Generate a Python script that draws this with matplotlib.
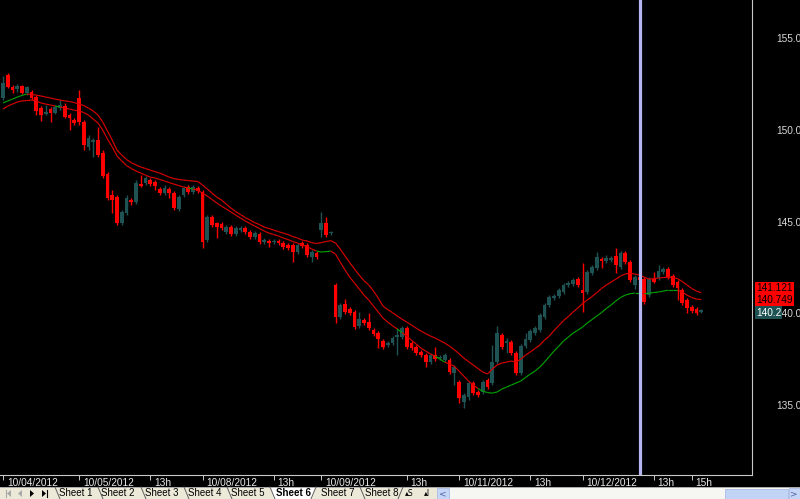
import matplotlib
matplotlib.use("Agg")
import matplotlib.pyplot as plt
import matplotlib.transforms as mtransforms
from matplotlib.collections import LineCollection
from matplotlib.patches import Rectangle, Polygon

# 15 minute bars, 10/04/2012 - 10/12/2012
opens = [
    151.73, 152.98, 152.33, 152.22, 152.38, 152.00, 152.06, 151.78, 151.18, 150.86,
    151.13, 150.91, 151.18, 151.29, 150.80, 150.53, 151.73, 150.42, 149.06, 149.33,
    149.44, 148.73, 147.59, 146.44, 146.33, 144.92, 145.46, 146.17, 146.06, 147.04,
    147.10, 147.26, 147.15, 146.77, 146.55, 146.77, 146.55, 145.68, 146.44, 146.88,
    146.61, 146.82, 146.61, 143.99, 145.24, 144.92, 144.86, 144.43, 144.70, 144.32,
    144.53, 144.64, 144.43, 144.15, 144.32, 143.88, 143.94, 143.88, 143.94, 143.83,
    143.72, 143.72, 143.34, 143.83, 143.72, 143.06, 143.28, 144.53, 144.92, 144.37,
    141.54, 139.79, 140.50, 140.23, 140.07, 139.30, 139.63, 139.52, 139.08, 138.92,
    138.49, 138.27, 138.38, 138.70, 138.70, 139.19, 138.38, 138.16, 137.89, 137.72,
    137.34, 137.72, 137.56, 137.45, 137.45, 136.74, 136.25, 135.16, 135.43, 136.20,
    135.71, 135.71, 136.36, 136.20, 137.34, 138.81, 138.38, 138.43, 137.83, 136.74,
    138.21, 138.54, 138.92, 139.08, 139.79, 140.45, 140.83, 140.94, 141.16, 141.54,
    141.59, 141.86, 141.26, 141.16, 142.19, 142.46, 142.95, 142.85, 142.90, 143.12,
    142.52, 143.28, 142.79, 141.54, 141.97, 141.86, 140.99, 141.86, 141.92, 142.25,
    142.41, 142.03, 141.70, 141.26, 140.72, 140.34, 140.23, 140.07,
]
highs = [
    152.93, 153.09, 152.44, 152.49, 152.44, 152.38, 152.16, 151.89, 151.29, 151.35,
    151.24, 151.35, 151.62, 151.46, 150.91, 150.64, 152.16, 150.53, 149.71, 149.55,
    150.15, 148.89, 147.70, 146.71, 146.44, 145.62, 146.44, 146.28, 147.26, 147.53,
    147.48, 147.37, 147.26, 146.88, 146.99, 146.88, 146.66, 146.44, 146.93, 146.99,
    146.99, 146.93, 146.71, 145.35, 145.35, 144.97, 144.97, 144.81, 144.81, 144.75,
    144.75, 144.75, 144.53, 144.48, 144.43, 144.10, 144.04, 144.04, 144.04, 143.94,
    143.83, 143.83, 143.83, 143.94, 143.83, 143.44, 143.39, 145.52, 145.24, 144.48,
    141.65, 140.56, 140.77, 140.34, 140.17, 140.07, 139.74, 140.01, 139.19, 139.03,
    138.59, 138.49, 138.76, 139.19, 139.30, 139.30, 138.49, 138.27, 138.00, 137.83,
    137.83, 138.16, 137.72, 137.83, 137.56, 137.18, 136.36, 135.65, 136.31, 136.31,
    135.82, 136.36, 136.47, 138.27, 139.30, 138.92, 138.65, 138.54, 137.94, 138.32,
    138.92, 139.14, 139.30, 140.01, 140.56, 140.99, 141.05, 141.37, 141.65, 141.75,
    141.92, 141.97, 142.74, 142.36, 142.63, 143.34, 143.06, 143.17, 143.12, 143.55,
    143.39, 143.39, 142.90, 142.08, 142.08, 141.97, 141.97, 142.25, 142.63, 142.52,
    142.52, 142.14, 141.81, 141.37, 140.83, 140.45, 140.34, 140.23,
]
lows = [
    151.62, 152.27, 152.00, 152.06, 151.95, 151.89, 151.62, 150.80, 150.48, 150.80,
    150.42, 150.86, 151.07, 150.64, 149.98, 150.26, 150.26, 148.89, 148.89, 148.51,
    148.51, 147.37, 146.17, 145.46, 144.81, 144.81, 145.35, 145.90, 145.95, 146.88,
    146.99, 146.93, 146.71, 146.44, 146.44, 146.28, 145.62, 145.57, 146.33, 146.50,
    146.50, 146.55, 143.55, 143.88, 144.70, 144.10, 144.53, 144.32, 144.21, 144.21,
    144.43, 144.32, 144.04, 144.04, 143.77, 143.77, 143.61, 143.77, 143.72, 143.50,
    143.44, 142.79, 143.23, 143.55, 143.06, 142.79, 142.95, 144.15, 144.15, 144.26,
    139.47, 139.68, 139.96, 139.90, 139.14, 139.19, 139.36, 139.08, 138.76, 138.10,
    138.05, 138.16, 138.27, 137.72, 138.59, 138.05, 138.00, 137.72, 137.61, 137.07,
    137.23, 137.40, 137.45, 137.34, 136.69, 136.09, 135.11, 134.83, 135.27, 135.54,
    135.43, 135.60, 135.87, 136.09, 137.23, 138.05, 137.83, 137.72, 136.63, 136.63,
    138.10, 138.43, 138.81, 138.97, 139.68, 140.34, 140.72, 140.83, 141.05, 141.43,
    141.48, 141.43, 140.07, 141.05, 142.08, 142.36, 142.46, 142.74, 142.79, 142.19,
    142.41, 142.68, 141.70, 141.32, 141.70, 140.50, 140.88, 141.65, 141.81, 142.14,
    141.86, 141.43, 140.72, 140.45, 140.01, 140.01, 139.90, 140.01,
]
closes = [
    152.55, 152.33, 152.16, 152.38, 152.00, 152.33, 151.73, 151.02, 150.80, 150.97,
    150.91, 151.24, 151.35, 150.69, 150.64, 150.37, 150.42, 149.17, 149.55, 149.44,
    148.62, 147.48, 146.28, 146.17, 144.92, 145.52, 146.28, 146.06, 147.10, 146.93,
    147.37, 147.04, 146.93, 146.55, 146.82, 146.55, 145.73, 146.33, 146.82, 146.61,
    146.88, 146.66, 143.88, 145.24, 144.81, 144.70, 144.64, 144.70, 144.32, 144.64,
    144.64, 144.43, 144.15, 144.37, 143.88, 143.99, 143.83, 143.94, 143.83, 143.61,
    143.55, 143.34, 143.72, 143.66, 143.17, 143.34, 143.06, 144.92, 144.26, 144.40,
    139.79, 140.45, 140.07, 140.01, 139.25, 139.68, 139.47, 139.19, 138.87, 138.59,
    138.16, 138.38, 138.65, 138.81, 139.19, 138.16, 138.10, 137.83, 137.72, 137.34,
    137.72, 137.50, 137.61, 137.72, 136.80, 137.07, 135.38, 135.54, 136.20, 135.65,
    135.54, 136.25, 135.98, 137.34, 138.92, 138.16, 138.49, 137.83, 136.74, 138.21,
    138.59, 139.03, 139.19, 139.90, 140.45, 140.88, 140.94, 141.26, 141.54, 141.65,
    141.81, 141.54, 141.10, 142.25, 142.52, 143.06, 142.85, 143.01, 143.01, 142.63,
    143.28, 142.79, 141.81, 141.97, 141.81, 140.61, 141.86, 141.70, 142.30, 142.41,
    141.97, 141.54, 141.37, 140.56, 140.28, 140.12, 140.01, 140.17,
]
ma_upper = [
    151.46, 151.57, 151.67, 151.78, 151.87, 151.95, 151.92, 151.89, 151.84, 151.78,
    151.73, 151.67, 151.62, 151.57, 151.54, 151.48, 151.40, 151.32, 151.18, 151.02,
    150.80, 150.42, 149.93, 149.44, 148.89, 148.62, 148.38, 148.21, 148.08, 147.97,
    147.89, 147.80, 147.72, 147.64, 147.53, 147.42, 147.34, 147.29, 147.26, 147.23,
    147.21, 147.18, 146.99, 146.77, 146.55, 146.33, 146.17, 145.95, 145.73, 145.54,
    145.38, 145.22, 145.08, 144.94, 144.83, 144.70, 144.62, 144.53, 144.45, 144.37,
    144.29, 144.18, 144.10, 143.99, 143.94, 143.85, 143.80, 143.85, 143.91, 143.96,
    143.83, 143.50, 143.12, 142.76, 142.41, 142.08, 141.78, 141.54, 141.21, 140.83,
    140.39, 140.20, 140.04, 139.85, 139.68, 139.52, 139.36, 139.19, 139.03, 138.89,
    138.76, 138.65, 138.51, 138.38, 138.21, 138.02, 137.80, 137.56, 137.37, 137.18,
    136.99, 136.80, 136.69, 136.96, 137.18, 137.29, 137.34, 137.40, 137.34, 137.50,
    137.72, 137.89, 138.08, 138.27, 138.54, 138.76, 139.06, 139.33, 139.60, 139.82,
    140.07, 140.28, 140.53, 140.72, 140.91, 141.13, 141.35, 141.54, 141.70, 141.86,
    142.03, 142.14, 142.19, 142.14, 142.08, 141.97, 141.86, 141.89, 141.92, 141.95,
    141.97, 141.95, 141.89, 141.73, 141.54, 141.35, 141.21, 141.12,
]
ma_lower = [
    151.13, 151.29, 151.40, 151.51, 151.57, 151.59, 151.62, 151.57, 151.46, 151.40,
    151.35, 151.29, 151.24, 151.18, 151.13, 151.07, 151.02, 150.94, 150.80, 150.58,
    150.37, 149.98, 149.49, 149.06, 148.57, 148.30, 148.05, 147.89, 147.75, 147.64,
    147.53, 147.42, 147.37, 147.29, 147.21, 147.12, 147.04, 146.96, 146.88, 146.82,
    146.77, 146.71, 146.55, 146.39, 146.20, 146.01, 145.84, 145.68, 145.52, 145.35,
    145.19, 145.03, 144.89, 144.75, 144.62, 144.48, 144.37, 144.29, 144.21, 144.10,
    144.02, 143.91, 143.83, 143.72, 143.64, 143.50, 143.39, 143.34, 143.36, 143.39,
    143.23, 142.79, 142.36, 141.97, 141.65, 141.32, 140.99, 140.72, 140.39, 140.07,
    139.74, 139.52, 139.33, 139.14, 138.95, 138.76, 138.54, 138.32, 138.10, 137.94,
    137.78, 137.67, 137.50, 137.34, 137.23, 137.12, 136.85, 136.58, 136.31, 136.09,
    135.90, 135.76, 135.68, 135.65, 135.71, 135.87, 135.98, 136.09, 136.20, 136.31,
    136.50, 136.69, 136.85, 137.07, 137.34, 137.64, 137.94, 138.21, 138.49, 138.70,
    138.92, 139.08, 139.25, 139.47, 139.66, 139.85, 140.04, 140.26, 140.45, 140.67,
    140.86, 140.99, 141.07, 141.10, 141.10, 141.10, 141.10, 141.13, 141.16, 141.21,
    141.26, 141.26, 141.26, 141.16, 140.99, 140.86, 140.77, 140.75,
]

tick_bars = [0, 16, 31, 42, 57, 67, 85, 96, 111, 122, 137, 145]
tick_labels = ["10/04/2012", "10/05/2012", "13h", "10/08/2012", "13h", "10/09/2012",
               "13h", "10/11/2012", "13h", "10/12/2012", "13h", "15h"]
price_ticks = [135, 140, 145, 150, 155]
cursor_bar = 134
last_labels = ["141.121", "140.749", "140.2"]
last_values = [141.121, 140.749, 140.2]
sheets = ["Sheet 1", "Sheet 2", "Sheet 3", "Sheet 4", "Sheet 5", "Sheet 6", "Sheet 7", "Sheet 8"]
active_sheet = "Sheet 6"

UP = "#1f5252"
DOWN = "#ff0000"
LINE_RED = "#d80000"
LINE_GREEN = "#00a000"
SWITCH = 7  # before this bar the upper band carries the colour, after it the lower one

fig = plt.figure(figsize=(8, 4.99), dpi=100, facecolor="black")
ax = fig.add_axes([0, 24 / 499, 752 / 800, 475 / 499], facecolor="black")

n = len(closes)
xs = list(range(n))

# candles
for i in xs:
    up = closes[i] >= opens[i]
    col = UP if up else DOWN
    ax.vlines(i, lows[i], highs[i], color=col, lw=1.0, zorder=2)
    lo = min(opens[i], closes[i])
    hgt = max(abs(closes[i] - opens[i]), 0.07)
    ax.add_patch(Rectangle((i - 0.38, lo), 0.76, hgt, facecolor=col,
                           edgecolor="none", zorder=3))


def band(values, active):
    segs, cols = [], []
    for i in range(len(values) - 1):
        j = i + 1
        segs.append([(i, values[i]), (j, values[j])])
        green = active(j) and closes[j] > values[j]
        cols.append(LINE_GREEN if green else LINE_RED)
    return LineCollection(segs, colors=cols, linewidths=0.85, zorder=4)


ax.add_collection(band(ma_upper, lambda j: j < SWITCH))
ax.add_collection(band(ma_lower, lambda j: j >= SWITCH))

ax.axvline(cursor_bar, color="#b4b4f0", lw=2.3, zorder=5)

ax.set_xlim(-3 / 4.75, 749 / 4.75)
ax.set_ylim(131.19, 157.07)

for s in ["top", "left"]:
    ax.spines[s].set_visible(False)
for s in ["right", "bottom"]:
    ax.spines[s].set_color("#c8c8c8")
    ax.spines[s].set_linewidth(0.8)

ax.set_xticks(tick_bars)
ax.tick_params(axis="x", direction="out", length=3.8, width=0.7, color="#c8c8c8",
               labelbottom=False)
xt = mtransforms.blended_transform_factory(ax.transData, ax.transAxes)
xt = xt + mtransforms.ScaledTranslation(4 / 100, -3 / 100, fig.dpi_scale_trans)
for b, lab in zip(tick_bars, tick_labels):
    ax.text(b, 0, lab, transform=xt, ha="left", va="top", fontsize=7.3,
            color="#e8e8e8", family="Liberation Sans", clip_on=False)

ax.yaxis.tick_right()
ax.set_yticks(price_ticks)
ax.set_yticklabels([f"{p:.1f}" for p in price_ticks])
ax.tick_params(axis="y", length=0, pad=17.3, labelsize=7.3, labelcolor="#d8d8d8")
for t in ax.get_yticklabels():
    t.set_family("Liberation Sans")

# last value boxes on the price scale
yt = mtransforms.blended_transform_factory(ax.transAxes, ax.transData)
box_shift = [4.5, 0, -3.0]
box_style = [("#ff0000", "black"), ("#ff0000", "black"), ("#1f5252", "white")]
for lab, val, dy, (fc, tc) in zip(last_labels, last_values, box_shift, box_style):
    tr = yt + mtransforms.ScaledTranslation(4 / 100, dy / 100, fig.dpi_scale_trans)
    ax.text(1.0, val, lab, transform=tr, ha="left", va="center", fontsize=7.3,
            color=tc, family="Liberation Sans", clip_on=False, zorder=10,
            bbox=dict(boxstyle="square,pad=0.12", fc=fc, ec="none"))

# sheet tab strip at the bottom
ov = fig.add_axes([0, 0, 1, 1], zorder=20)
ov.set_xlim(0, 800)
ov.set_ylim(499, 0)
ov.axis("off")
ov.patch.set_alpha(0)
ov.add_patch(Rectangle((0, 487), 800, 12, facecolor="#ece9d8", edgecolor="none"))
ov.plot([0, 800], [487, 487], color="#a0a0a0", lw=0.6)

# navigation arrows
for x0, col, d in [(9, "#a8a8a8", -1), (20, "#a8a8a8", -1), (32, "black", 1), (44, "black", 1)]:
    tri = [(x0 - 2 * d, 490), (x0 - 2 * d, 497), (x0 + 2 * d, 493.5)]
    ov.add_patch(Polygon(tri, closed=True, facecolor=col, edgecolor="none"))
ov.plot([6, 6], [490, 497], color="#a8a8a8", lw=0.8)
ov.plot([47, 47], [490, 497], color="black", lw=0.8)

tab_centers = [76, 118, 162, 205, 248, 294, 338, 382]
tab_edges = [55, 98, 141, 184, 227, 270, 316, 360, 403]
act = sheets.index(active_sheet)
ov.add_patch(Polygon([(tab_edges[act], 487), (tab_edges[act + 1], 487),
                      (tab_edges[act + 1] - 4, 499), (tab_edges[act] + 4, 499)],
                     closed=True, facecolor="white", edgecolor="none"))
for k, e in enumerate(tab_edges):
    if k == act + 1 or k == len(tab_edges) - 1:
        ov.plot([e, e - 5], [487, 499], color="#606060", lw=0.7)
    else:
        ov.plot([e, e + 5], [487, 499], color="#606060", lw=0.7)
for name, cx in zip(sheets, tab_centers):
    ov.text(cx, 493.5, name, ha="center", va="center", fontsize=7,
            family="Liberation Sans", color="black",
            weight="bold" if name == active_sheet else "normal")
ov.text(409, 493.5, "\u25b4S", ha="center", va="center", fontsize=5.5, color="black")
ov.text(427, 493.5, "\u25b4I", ha="center", va="center", fontsize=5.5, color="black")

# horizontal scroll bar
ov.add_patch(Rectangle((437, 488), 363, 11, facecolor="#f6f6f2", edgecolor="none"))
ov.add_patch(Rectangle((437, 488), 12, 11, facecolor="#c6d6f6", edgecolor="#9fb4e0", lw=0.5))
ov.text(443, 493.5, "<", ha="center", va="center", fontsize=6.5, color="#4d61a5")
ov.add_patch(Rectangle((725, 488.5), 63, 10, facecolor="#c2d4f6", edgecolor="#9fb4e0", lw=0.5))
ov.add_patch(Rectangle((789, 488), 11, 11, facecolor="#c6d6f6", edgecolor="#9fb4e0", lw=0.5))
ov.text(794, 493.5, ">", ha="center", va="center", fontsize=6.5, color="#4d61a5")

fig.savefig("out.png", dpi=100, facecolor="black")
